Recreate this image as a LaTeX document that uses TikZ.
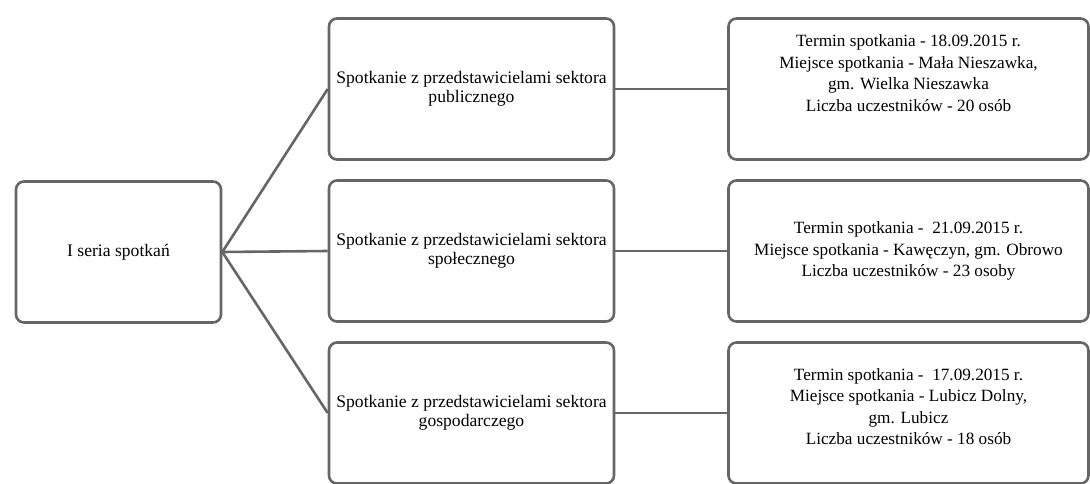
\documentclass[tikz,border=0pt]{standalone}
\usepackage{fontspec}
\setmainfont{Liberation Serif}
\usepackage{tikz}
\usetikzlibrary{positioning}
\definecolor{ramka}{gray}{0.4}

\begin{document}
\begin{tikzpicture}[node distance=162pt, on grid,
   box/.style={draw=ramka, line width=2.6pt, rounded corners=8pt, align=center,
               inner sep=0pt, font=\fontsize{17.6}{18.5}\selectfont},
   seria/.style={box, minimum width=205pt, minimum height=141pt},
   sektor/.style={box, minimum width=285pt, minimum height=141pt},
   termin/.style={box, minimum width=360pt, minimum height=141pt,
                  font=\fontsize{17.2}{21.5}\selectfont},
   polacz/.style={draw=ramka, line width=2.6pt}]
   \useasboundingbox (0,0) rectangle (1090pt,-484pt);

   % 定义节点
   \node[seria] (s0) at (118.5pt,-252pt) {I seria spotkań};
   \node[sektor] (spo) [right=353pt of s0, yshift=1pt] {Spotkanie z przedstawicielami sektora\\ społecznego};
   \node[sektor] (pub) [above=of spo] {Spotkanie z przedstawicielami sektora\\ publicznego};
   \node[sektor] (gos) [below=of spo] {Spotkanie z przedstawicielami sektora\\ gospodarczego};
   \node[termin] (t1) [right=437pt of pub] {Termin spotkania - 18.09.2015 r.\\ Miejsce spotkania - Mała Nieszawka,\\ gm. Wielka Nieszawka\\ Liczba uczestników - 20 osób\\[10pt]};
   \node[termin] (t2) [right=437pt of spo] {Termin spotkania -\ \ 21.09.2015 r.\\ Miejsce spotkania - Kawęczyn, gm. Obrowo\\ Liczba uczestników - 23 osoby};
   \node[termin] (t3) [right=437pt of gos] {Termin spotkania -\ \ 17.09.2015 r.\\ Miejsce spotkania - Lubicz Dolny,\\ gm. Lubicz\\ Liczba uczestników - 18 osób\\[-9pt]};

   % 连线
   \path[polacz]
   (s0.east) edge (pub.west)
             edge (spo.west)
             edge (gos.west)
   (pub) edge (t1)
   (spo) edge (t2)
   (gos) edge (t3);
\end{tikzpicture}
\end{document}
